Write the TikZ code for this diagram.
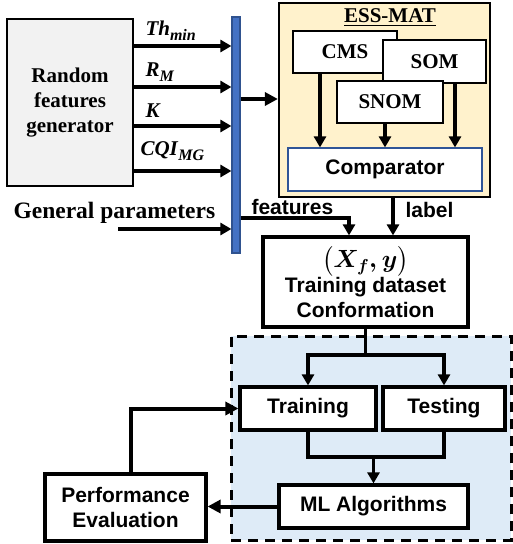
\documentclass[tikz,border=0pt]{standalone}
\usepackage{fontspec}
\usepackage{amsmath}
\setmainfont{Liberation Serif}
\setsansfont{Liberation Sans}
\usetikzlibrary{arrows.meta}
\definecolor{barblue}{HTML}{4472C4}
\definecolor{baredge}{HTML}{2F528F}
\definecolor{essfill}{HTML}{FFF2CC}
\definecolor{compedge}{HTML}{2F5597}
\definecolor{mlfill}{HTML}{DEEBF7}
\definecolor{genfill}{HTML}{F2F2F2}
\newcommand{\mysub}[1]{\raisebox{-5pt}{\fontsize{16}{16}\selectfont\textit{#1}}}
\begin{document}
\begin{tikzpicture}[x=1pt,y=-1pt,
 serif/.style={font=\fontsize{21}{25}\selectfont\rmfamily\bfseries},
 sans/.style={font=\fontsize{21}{25}\selectfont\sffamily\bfseries},
 box/.style={draw=black, line width=3.2pt, fill=white, inner sep=0pt, align=center},
 inbox/.style={draw=black, line width=1.2pt, fill=white, inner sep=0pt},
 arr/.style={line width=3.2pt, -{Triangle[length=11pt,width=12pt]}},
 thickarr/.style={line width=4pt, -{Triangle[length=13pt,width=13pt]}},
 ln/.style={line width=3.2pt},
]
\useasboundingbox (0,0) rectangle (513,544);
% ML region
\node[draw=black, line width=3pt, dash pattern=on 10pt off 7pt, fill=mlfill,
      minimum width=280pt, minimum height=204pt, inner sep=0pt] (mlreg) at (371,438) {};
% generator
\node[draw=black, line width=2.8pt, fill=genfill, minimum width=126pt, minimum height=167pt,
      inner sep=0pt, serif, align=center] (gen) at (70,102.5) {Random\\features\\generator};
% bar
\node[fill=barblue, draw=baredge, line width=1.2pt, minimum width=8pt, minimum height=236pt,
      inner sep=0pt] (bar) at (236,135) {};
% ESS-MAT
\node[draw=black, line width=2.2pt, fill=essfill, minimum width=211pt, minimum height=194pt,
      inner sep=0pt] (ess) at (384.5,100) {};
\node[serif, anchor=base] (esstitle) at (390,22) {\underline{ESS-MAT}};
\node[inbox, serif, minimum width=104pt, minimum height=42pt] (cms) at (345,52) {CMS};
\node[inbox, serif, minimum width=103pt, minimum height=43pt] (som) at (434.5,61.5) {SOM};
\node[inbox, serif, minimum width=106pt, minimum height=42pt] (snom) at (390,102) {SNOM};
\node[draw=compedge, line width=1.2pt, fill=white, minimum width=194pt, minimum height=43pt,
      inner sep=0pt, sans] (comp) at (385,169.5) {Comparator};
\path ([xshift=-25pt]cms.south) coordinate (a1);
\path ([xshift=-5pt]snom.south) coordinate (a2);
\path ([xshift=20.5pt]som.south) coordinate (a3);
\draw[arr] (a1) -- (a1 |- comp.north);
\draw[arr] (a2) -- (a2 |- comp.north);
\draw[arr] (a3) -- (a3 |- comp.north);
% feature arrows
\coordinate (y1) at (0,46);
\coordinate (y2) at (0,87);
\coordinate (y3) at (0,126);
\coordinate (y4) at (0,171);
\draw[arr] (gen.east |- y1) -- (bar.west |- y1);
\draw[arr] (gen.east |- y2) -- (bar.west |- y2);
\draw[arr] (gen.east |- y3) -- (bar.west |- y3);
\draw[arr] (gen.east |- y4) -- (bar.west |- y4);
\node[serif, anchor=base west] (lth) at (142,35) {\textit{Th}\mysub{min}};
\node[serif, anchor=base west] (lrm) at (142,76) {\textit{R}\mysub{M}};
\node[serif, anchor=base west] (lk) at (142,117) {\textit{K}};
\node[serif, anchor=base west] (lcqi) at (137,155) {\textit{CQI}\mysub{MG}};
% general parameters
\node[font=\fontsize{23.5}{28}\selectfont\rmfamily\bfseries, anchor=base west] (gp) at (10,218) {General parameters};
\coordinate (gpstart) at (118,229);
\draw[arr] (gpstart) -- (bar.west |- gpstart);
% bar to ESS
\coordinate (y5) at (0,99);
\draw[thickarr] (bar.east |- y5) -- (ess.west |- y5);
% training dataset
\node[box, sans, minimum width=205pt, minimum height=90pt] (tds) at (365.5,282)
  {{\fontsize{24}{26}\selectfont$\boldsymbol{\bigl(X_f, y\bigr)}$}\\Training dataset\\Conformation};
\coordinate (yf) at (0,218);
\path ([xshift=-16.5pt]tds.north) coordinate (tf);
\path ([xshift=27.5pt]tds.north) coordinate (tl);
\draw[arr] (bar.east |- yf) -| (tf);
\draw[arr] (ess.south -| tl) -- (tl);
\node[sans, anchor=base west] (flab) at (248,214) {features};
\node[sans, anchor=base west] (llab) at (402,217) {label};
% ML part
\node[box, sans, minimum width=136pt, minimum height=43pt] (train) at (308,408.5) {Training};
\node[box, sans, minimum width=122pt, minimum height=43pt] (test) at (444,408.5) {Testing};
\node[box, sans, minimum width=189pt, minimum height=43pt] (ml) at (373.5,506.5) {ML Algorithms};
\node[box, sans, minimum width=161pt, minimum height=67pt] (perf) at (125.5,507.5) {Performance\\Evaluation};
\coordinate (s1) at (0,355);
\coordinate (s2) at (0,457);
\draw[ln] (tds.south) -- (tds.south |- s1);
\draw[arr] (tds.south |- s1) -| (train.north);
\draw[arr] (tds.south |- s1) -| (test.north);
\draw[ln] (train.south) |- (test.south |- s2) -- (test.south);
\draw[arr] (ml.north |- s2) -- (ml.north);
\draw[thickarr] (ml.west) -- (perf.east |- ml.west);
\path ([xshift=5.5pt]perf.north) coordinate (fb);
\draw[thickarr] (fb) |- (train.west);
\end{tikzpicture}
\end{document}
